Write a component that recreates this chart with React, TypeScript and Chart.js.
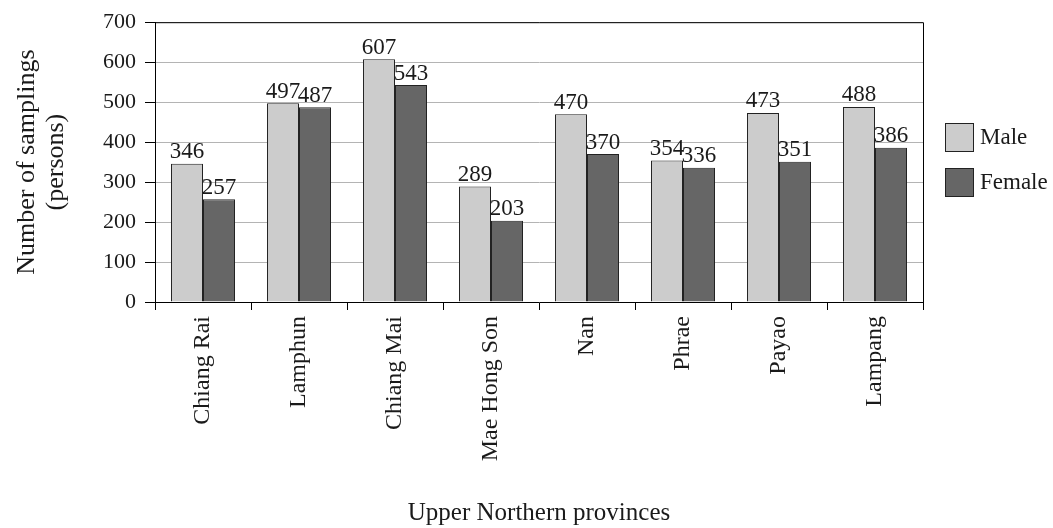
import React, { useEffect, useRef } from "react";
import { Chart, registerables } from "chart.js";

Chart.register(...registerables);

const provinces = ["Chiang Rai", "Lamphun", "Chiang Mai", "Mae Hong Son", "Nan", "Phrae", "Payao", "Lampang"];
const maleValues = [346, 497, 607, 289, 470, 354, 473, 488];
const femaleValues = [257, 487, 543, 203, 370, 336, 351, 386];
const seriesNames = ["Male", "Female"];
const yTicks = [0, 100, 200, 300, 400, 500, 600, 700];

const FONT = "'Liberation Serif', 'Times New Roman', serif";
const TEXT = "#1a1a1a";

const frameAndLabels = {
  id: "frameAndLabels",
  afterDatasetsDraw(chart: any) {
    const ctx = chart.ctx;
    ctx.save();
    ctx.font = `23px ${FONT}`;
    ctx.fillStyle = TEXT;
    ctx.textAlign = "center";
    ctx.textBaseline = "bottom";
    chart.data.datasets.forEach((ds: any, i: number) => {
      const meta = chart.getDatasetMeta(i);
      meta.data.forEach((el: any, j: number) => {
        ctx.fillText(String(ds.data[j]), el.x, el.y);
      });
    });
    ctx.restore();
  },
  afterDraw(chart: any) {
    const ctx = chart.ctx;
    const a = chart.chartArea;
    ctx.save();
    ctx.strokeStyle = "#000";
    ctx.lineWidth = 1;
    ctx.beginPath();
    ctx.moveTo(a.left, a.top + 0.5);
    ctx.lineTo(a.right + 0.5, a.top + 0.5);
    ctx.lineTo(a.right + 0.5, a.bottom);
    ctx.stroke();
    // legend
    const ds = chart.data.datasets;
    const x0 = a.right + 22;
    const ys = [123, 168];
    ctx.font = `23px ${FONT}`;
    ctx.textAlign = "left";
    ctx.textBaseline = "middle";
    ds.forEach((d: any, i: number) => {
      ctx.fillStyle = d.backgroundColor;
      ctx.fillRect(x0, ys[i], 29, 29);
      ctx.strokeStyle = "#222";
      ctx.strokeRect(x0 + 0.5, ys[i] + 0.5, 28, 28);
      ctx.fillStyle = TEXT;
      ctx.fillText(d.label, x0 + 35, ys[i] + 15);
    });
    ctx.restore();
  },
};

export default function App() {
  const ref = useRef<HTMLCanvasElement | null>(null);
  useEffect(() => {
    if (!ref.current) return;
    const chart = new Chart(ref.current, {
      type: "bar",
      data: {
        labels: provinces,
        datasets: [
          {
            label: seriesNames[0],
            data: maleValues,
            backgroundColor: "#cccccc",
            borderColor: "#222",
            borderWidth: 1,
            categoryPercentage: 0.667,
            barPercentage: 1,
          },
          {
            label: seriesNames[1],
            data: femaleValues,
            backgroundColor: "#666666",
            borderColor: "#222",
            borderWidth: 1,
            categoryPercentage: 0.667,
            barPercentage: 1,
          },
        ],
      },
      options: {
        animation: false,
        responsive: true,
        maintainAspectRatio: false,
        layout: { padding: { top: 22, right: 130, bottom: 0, left: 0 } },
        plugins: { legend: { display: false }, tooltip: { enabled: false } },
        scales: {
          x: {
            afterFit(scale: any) {
              scale.height = 226;
            },
            grid: {
              display: true,
              drawOnChartArea: false,
              drawTicks: true,
              tickLength: 8,
              tickColor: "#000",
              offset: true,
            },
            border: { color: "#000", width: 1 },
            ticks: {
              minRotation: 90,
              maxRotation: 90,
              autoSkip: false,
              padding: 6,
              color: TEXT,
              font: { family: FONT, size: 24 },
            },
            title: {
              display: true,
              text: "Upper Northern provinces",
              color: TEXT,
              font: { family: FONT, size: 25, lineHeight: 1.2 },
              padding: { top: 0, bottom: 0 },
            },
          },
          y: {
            min: 0,
            max: 700,
            afterFit(scale: any) {
              scale.width = 155;
            },
            afterBuildTicks(scale: any) {
              scale.ticks = yTicks.map((v) => ({ value: v }));
            },
            grid: {
              color: "#b4b4b4",
              tickColor: "#000",
              tickLength: 10,
              drawTicks: true,
            },
            border: { color: "#000", width: 1 },
            ticks: {
              padding: 9,
              color: TEXT,
              font: { family: FONT, size: 22 },
            },
            title: {
              display: true,
              text: ["Number of samplings", "(persons)"],
              color: TEXT,
              font: { family: FONT, size: 26, lineHeight: 1.14 },
              padding: { top: 12, bottom: 0 },
            },
          },
        },
      },
      plugins: [frameAndLabels],
    } as any);
    return () => chart.destroy();
  }, []);
  return (
    <div style={{ position: "absolute", left: 0, top: 0, width: 1053, height: 528, background: "#fff" }}>
      <canvas ref={ref} />
    </div>
  );
}
